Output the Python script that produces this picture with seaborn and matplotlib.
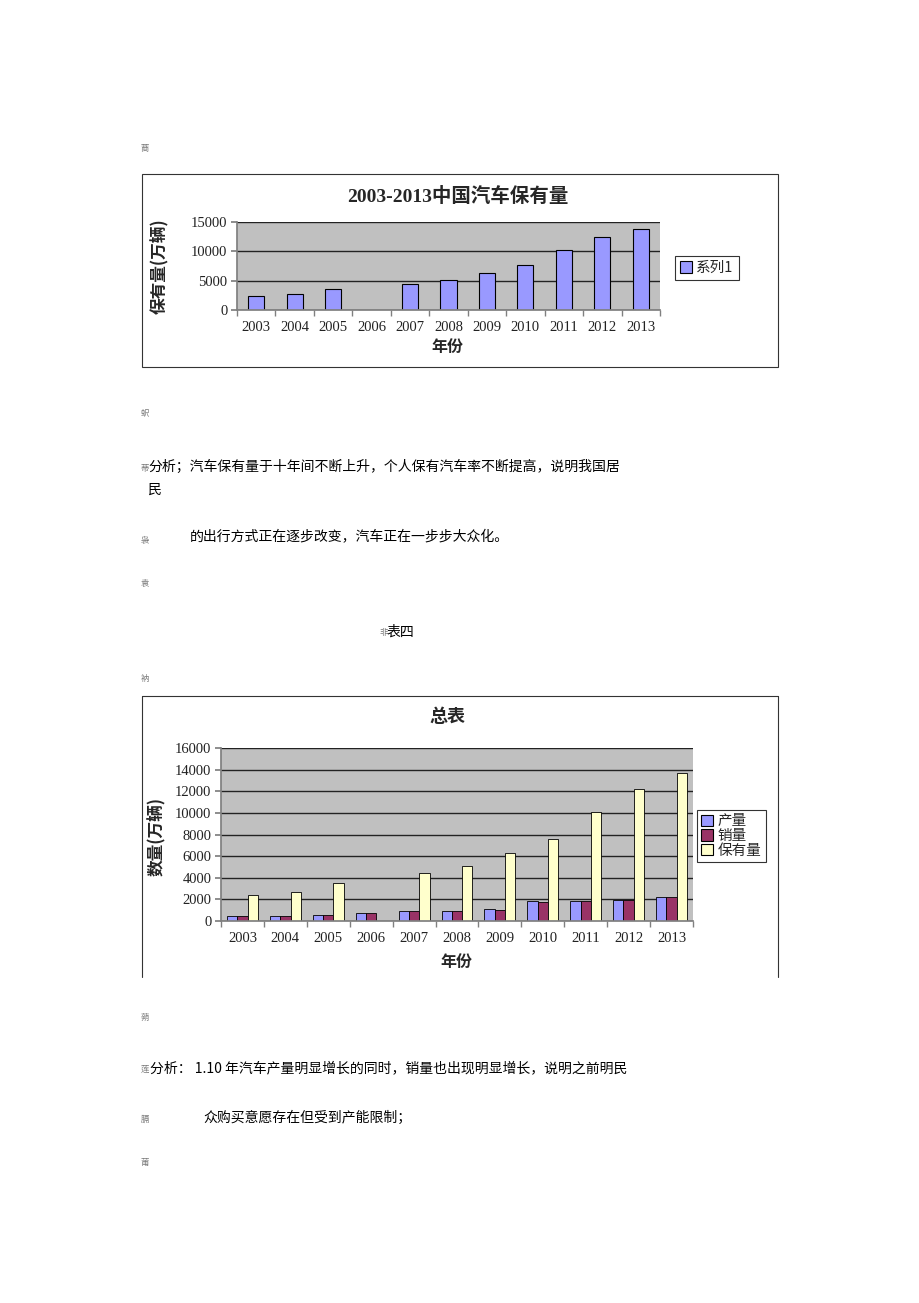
import numpy as np
import pandas as pd
import seaborn as sns
import matplotlib
matplotlib.use("Agg")
import matplotlib.pyplot as plt
from matplotlib.patches import Rectangle, Patch
from matplotlib.lines import Line2D

# data
years = ['2003', '2004', '2005', '2006', '2007', '2008', '2009', '2010', '2011', '2012', '2013']
stock_1 = [2450, 2770, 3580, np.nan, 4500, 5120, 6300, 7700, 10150, 12400, 13800]

production = [470, 470, 560, 710, 900, 900, 1090, 1890, 1890, 1950, 2230]
sales = [470, 470, 560, 710, 900, 900, 990, 1800, 1890, 1950, 2230]
stock_2 = [2360, 2670, 3500, np.nan, 4400, 5090, 6300, 7600, 10080, 12250, 13650]
series_names = ['产量', '销量', '保有量']
series_colors = ['#9999FF', '#993366', '#FFFFCC']

sns.set_theme(style="white")
plt.rcParams['font.family'] = ['Noto Sans CJK SC', 'DejaVu Sans']
serif = ['Liberation Serif', 'Noto Sans CJK SC']

W, H = 920, 1303
fig = plt.figure(figsize=(W / 100, H / 100), dpi=100)
fig.patch.set_facecolor('white')


def box(x0, y0, x1, y1):
    # figure coords from pixel coords (top-left origin)
    return [x0 / W, 1 - y1 / H, (x1 - x0) / W, (y1 - y0) / H]


def ftext(x, y, s, **kw):
    fig.text(x / W, 1 - y / H, s, **kw)


def style_axes(ax, ymax, step):
    ax.set_facecolor('#C0C0C0')
    ax.set_ylim(0, ymax)
    ax.set_xlim(-0.5, len(years) - 0.5)
    ax.set_yticks(np.arange(0, ymax + 1, step))
    ax.yaxis.grid(True, color='#222222', linewidth=1.0)
    ax.xaxis.grid(False)
    ax.set_axisbelow(True)
    for s in ['top', 'right']:
        ax.spines[s].set_visible(False)
    for s in ['left', 'bottom']:
        ax.spines[s].set_color('#808080')
    ax.set_xlabel('')
    ax.set_ylabel('')
    ax.set_xticks(np.arange(-0.5, len(years) - 0.4, 1), minor=True)
    ax.tick_params(axis='x', which='major', length=0, pad=8)
    ax.tick_params(axis='x', which='minor', length=4, color='#808080', direction='out', bottom=True)
    ax.tick_params(axis='y', length=4, color='#808080', direction='out', left=True, pad=3)
    for lab in ax.get_xticklabels() + ax.get_yticklabels():
        lab.set_family(serif)
        lab.set_fontsize(10.5)
        lab.set_color('#222222')


def tiny(x, y, s):
    ftext(x, y, s, fontsize=6, color='#777777', va='center')


# ---- chart 1 ----
fig.add_artist(Rectangle((142 / W, 1 - 367 / H), 636 / W, 193 / H, fill=False,
                         edgecolor='#333333', linewidth=0.8, transform=fig.transFigure))
ax1 = fig.add_axes(box(237, 222, 660, 310))
df1 = pd.DataFrame({'年份': years, '保有量': stock_1})
sns.barplot(data=df1, x='年份', y='保有量', color='#9999FF', edgecolor='black',
            linewidth=0.8, width=0.42, saturation=1, ax=ax1)
style_axes(ax1, 15000, 5000)
ftext(458, 196, '2003-2013中国汽车保有量', ha='center', va='center', fontsize=14,
      fontweight='bold', family=serif)
ftext(160, 266, '保有量(万辆)', ha='center', va='center', rotation=90, fontsize=12,
      fontweight='bold')
ftext(447, 347, '年份', ha='center', va='center', fontsize=11.5, fontweight='bold')
leg1 = fig.legend(handles=[Patch(facecolor='#9999FF', edgecolor='black', linewidth=0.8)],
                  labels=['系列1'], loc='center left', bbox_to_anchor=(675 / W, 1 - 268 / H),
                  frameon=True, fancybox=False, fontsize=10.5, handlelength=0.8,
                  handleheight=0.8, handletextpad=0.3, borderpad=0.35, borderaxespad=0)
leg1.get_frame().set_edgecolor('black')
leg1.get_frame().set_linewidth(0.8)

# ---- text between charts ----
tiny(141, 148, '蔏')
tiny(141, 413, '蚇')
tiny(141, 468, '蒂')
ftext(148, 467, '分析；汽车保有量于十年间不断上升，个人保有汽车率不断提高，说明我国居',
      fontsize=10, va='center', color='black')
ftext(148, 490, '民', fontsize=10, va='center', color='black')
tiny(141, 540, '袅')
ftext(190, 537, '的出行方式正在逐步改变，汽车正在一步步大众化。', fontsize=10, va='center',
      color='black')
tiny(141, 583, '袁')
tiny(379, 633, '非')
ftext(387, 632, '表四', fontsize=10, va='center', color='black')
tiny(141, 678, '衲')

# ---- chart 2 ----
for xs, ys in [([142, 142], [977, 696]), ([142, 778], [696, 696]), ([778, 778], [696, 977])]:
    fig.add_artist(Line2D([x / W for x in xs], [1 - y / H for y in ys], color='#333333',
                          linewidth=0.8, transform=fig.transFigure))
ax2 = fig.add_axes(box(221, 748, 693, 921))
df2 = pd.DataFrame({
    '年份': years * 3,
    '系列': [series_names[0]] * 11 + [series_names[1]] * 11 + [series_names[2]] * 11,
    '数量': production + sales + stock_2,
})
sns.barplot(data=df2, x='年份', y='数量', hue='系列', hue_order=series_names,
            palette=series_colors, edgecolor='black', linewidth=0.6, width=0.72,
            saturation=1, ax=ax2, legend=False)
style_axes(ax2, 16000, 2000)
ftext(447, 717, '总表', ha='center', va='center', fontsize=13, fontweight='bold')
ftext(157, 836, '数量(万辆)', ha='center', va='center', rotation=90, fontsize=12,
      fontweight='bold')
ftext(456, 962, '年份', ha='center', va='center', fontsize=11.5, fontweight='bold')
handles = [Patch(facecolor=c, edgecolor='black', linewidth=0.8) for c in series_colors]
leg2 = fig.legend(handles=handles, labels=series_names, loc='center left',
                  bbox_to_anchor=(697 / W, 1 - 836 / H), frameon=True, fancybox=False,
                  fontsize=10.5, handlelength=0.8, handleheight=0.8, handletextpad=0.3,
                  borderpad=0.3, labelspacing=0.05, borderaxespad=0)
leg2.get_frame().set_edgecolor('black')
leg2.get_frame().set_linewidth(0.8)

# ---- text below ----
tiny(141, 1017, '蒴')
tiny(141, 1069, '莲')
ftext(150, 1068, '分析： 1.10 年汽车产量明显增长的同时，销量也出现明显增长，说明之前明民',
      fontsize=10, va='center', color='black')
tiny(141, 1119, '膈')
ftext(203, 1118, '众购买意愿存在但受到产能限制；', fontsize=10, va='center', color='black')
tiny(141, 1163, '莆')

fig.savefig('out.png', dpi=100, facecolor='white')
